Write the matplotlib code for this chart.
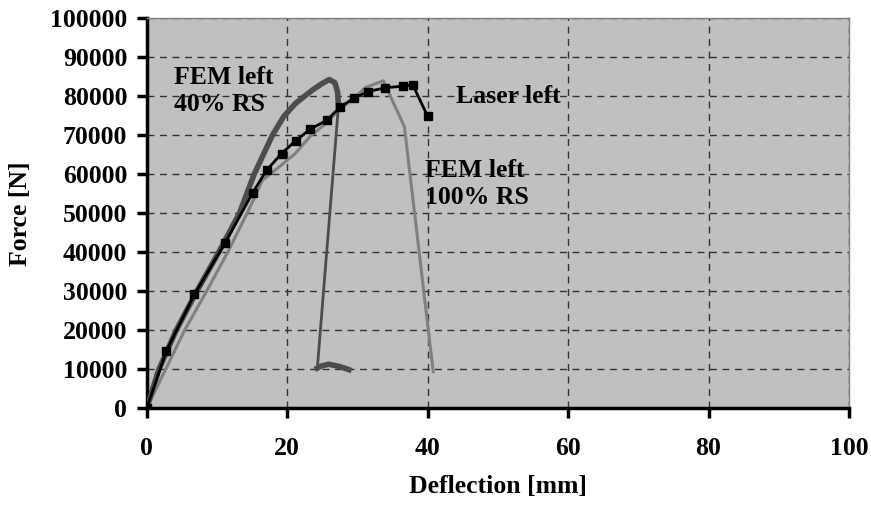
import matplotlib.pyplot as plt

# Laser measurement, left side
laser_d = [0, 2.8, 6.8, 11.2, 15.1, 17.1, 19.2, 21.2, 23.3, 25.7, 27.5, 29.5, 31.5, 34.0, 36.5, 37.9, 40.0]
laser_f = [0, 14700, 29200, 42500, 55300, 61100, 65300, 68600, 71600, 73900, 77200, 79500, 81200, 82200, 82600, 82900, 74900]

# FEM left, 40% residual stress
fem40_d = [0, 1.7, 4.2, 7.1, 10.2, 13.2, 15.3, 17.9, 19.5, 21.2, 23.6, 25.0, 26.0, 26.8, 27.2, 27.3,
           24.3, 24.8, 25.9, 27.5, 28.8]
fem40_f = [0, 9800, 20000, 29900, 39800, 50000, 60000, 70000, 74800, 78200, 81600, 83300, 84300, 83500, 81000, 77300,
           10300, 10800, 11300, 10700, 9900]

# FEM left, 100% residual stress
fem100_d = [0, 5.4, 8.5, 11.5, 14.3, 16.5, 19.2, 21.2, 23.3, 25.5, 27.4, 29.5, 31.1, 33.7, 34.2, 36.7, 40.8]
fem100_f = [0, 20000, 29900, 39900, 50000, 58500, 62400, 65400, 69800, 73000, 76500, 79500, 82200, 84000, 82000, 72200, 9400]

plt.rcParams['font.family'] = ['Liberation Serif', 'DejaVu Serif']
plt.rcParams['font.weight'] = 'bold'

fig = plt.figure(figsize=(8.71, 5.07), dpi=100)
ax = fig.add_axes([0.1684, 0.1947, 0.8063, 0.7692])
ax.set_facecolor('#c0c0c0')

ax.plot(fem100_d, fem100_f, color='#808080', lw=2.2, zorder=3)
ax.plot(fem40_d, fem40_f, color='#4d4d4d', lw=2.0, zorder=4)
ax.plot(fem40_d[:16], fem40_f[:16], color='#4d4d4d', lw=4.0, zorder=4)
ax.plot(fem40_d[16:], fem40_f[16:], color='#4d4d4d', lw=4.0, zorder=4)
ax.plot(laser_d, laser_f, color='black', lw=2.0, marker='s', ms=5.5, zorder=5)

ax.set_xlim(0, 100)
ax.set_ylim(0, 100000)
ax.set_xticks(range(0, 101, 20))
ax.set_yticks(range(0, 100001, 10000))
ax.grid(True, color='#333333', ls=(0, (5, 4)), lw=1.0)
ax.set_axisbelow(True)

for s in ['left', 'bottom']:
    ax.spines[s].set_linewidth(2.5)
    ax.spines[s].set_color('black')
for s in ['top', 'right']:
    ax.spines[s].set_linewidth(1.0)
    ax.spines[s].set_color('#808080')

ax.tick_params(axis='both', direction='out', length=7, width=2.5, labelsize=18.5)
ax.tick_params(axis='y', pad=7)
ax.tick_params(axis='x', pad=14)
for lbl in ax.get_xticklabels() + ax.get_yticklabels():
    lbl.set_fontweight('bold')

ax.set_xlabel('Deflection [mm]', fontsize=18.5, fontweight='bold')
ax.set_ylabel('Force [N]', fontsize=18.5, fontweight='bold')
ax.xaxis.set_label_coords(0.5, -0.172)
ax.yaxis.set_label_coords(-0.163, 0.5)

ax.text(3.9, 81400, 'FEM left\n40% RS', fontsize=18.5, fontweight='bold', ha='left', va='center', linespacing=1.2)
ax.text(44.0, 80000, 'Laser left', fontsize=18.5, fontweight='bold', ha='left', va='center')
ax.text(39.7, 57500, 'FEM left\n100% RS', fontsize=18.5, fontweight='bold', ha='left', va='center', linespacing=1.2)

fig.savefig('out.png', dpi=100)
